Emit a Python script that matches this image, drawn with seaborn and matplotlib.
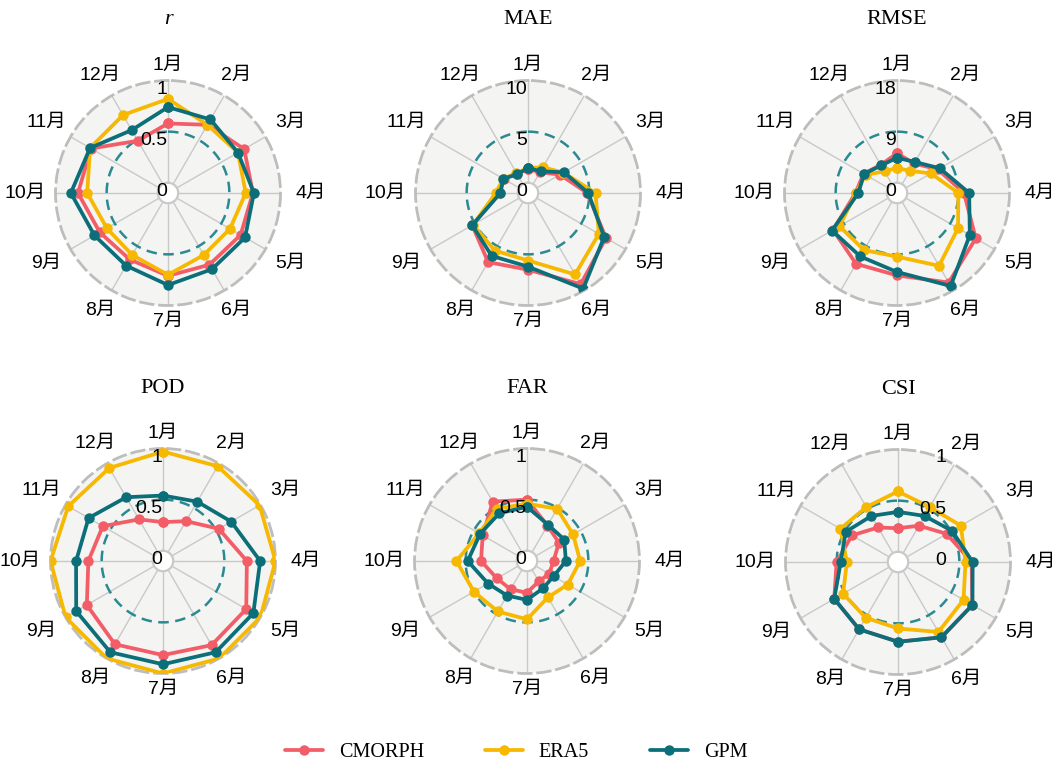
import numpy as np
import pandas as pd
import matplotlib.pyplot as plt
import matplotlib.transforms as mtransforms
from matplotlib.lines import Line2D
import seaborn as sns

# Data
months = [f"{i}月" for i in range(1, 13)]
products = ["CMORPH", "ERA5", "GPM"]
colors = ["#F35D68", "#F6B800", "#0B6E78"]

r_cmorph = [0.58, 0.67, 0.76, 0.73, 0.72, 0.71, 0.71, 0.65, 0.67, 0.78, 0.77, 0.49]
r_era5 = [0.82, 0.67, 0.69, 0.66, 0.60, 0.60, 0.70, 0.60, 0.59, 0.69, 0.78, 0.78]
r_gpm = [0.74, 0.73, 0.69, 0.74, 0.77, 0.76, 0.80, 0.72, 0.73, 0.85, 0.78, 0.61]

mae_cmorph = [1.35, 1.35, 2.6, 4.8, 7.8, 9.3, 6.5, 6.8, 5.3, 1.75, 1.75, 1.2]
mae_era5 = [1.45, 1.9, 3.0, 5.6, 7.0, 8.2, 5.6, 5.5, 5.2, 2.15, 1.8, 1.25]
mae_gpm = [1.45, 1.45, 3.05, 4.9, 7.6, 9.8, 6.2, 6.1, 5.3, 1.7, 1.8, 1.1]

rmse_cmorph = [5.2, 4.2, 6.5, 10.0, 14.2, 16.4, 12.7, 12.6, 11.2, 5.5, 5.0, 3.9]
rmse_era5 = [2.6, 2.7, 5.1, 9.0, 10.6, 13.0, 9.4, 9.8, 9.9, 5.4, 4.6, 2.6]
rmse_gpm = [4.4, 4.5, 6.9, 10.9, 13.0, 17.1, 12.1, 11.1, 11.4, 5.0, 4.9, 3.8]

pod_cmorph = [0.28, 0.35, 0.53, 0.72, 0.84, 0.85, 0.82, 0.84, 0.76, 0.63, 0.58, 0.37]
pod_era5 = [0.97, 0.97, 0.99, 1.0, 1.0, 1.0, 1.0, 1.0, 1.0, 1.0, 0.97, 0.95]
pod_gpm = [0.54, 0.57, 0.67, 0.85, 0.92, 0.93, 0.91, 0.93, 0.88, 0.75, 0.74, 0.62]

far_cmorph = [0.50, 0.30, 0.26, 0.16, 0.15, 0.13, 0.21, 0.22, 0.24, 0.35, 0.40, 0.57]
far_era5 = [0.46, 0.49, 0.42, 0.42, 0.36, 0.31, 0.47, 0.47, 0.50, 0.59, 0.44, 0.49]
far_gpm = [0.43, 0.31, 0.32, 0.28, 0.20, 0.21, 0.28, 0.29, 0.34, 0.48, 0.43, 0.44]

csi_cmorph = [0.23, 0.31, 0.45, 0.62, 0.74, 0.75, 0.68, 0.66, 0.62, 0.50, 0.42, 0.29]
csi_era5 = [0.59, 0.52, 0.61, 0.56, 0.64, 0.69, 0.55, 0.53, 0.52, 0.40, 0.55, 0.52]
csi_gpm = [0.39, 0.42, 0.51, 0.63, 0.74, 0.75, 0.68, 0.66, 0.62, 0.46, 0.49, 0.42]

titles = ["r", "MAE", "RMSE", "POD", "FAR", "CSI"]
r_limits = [1, 10, 18, 1, 1, 1]
r_ticklabels = [["0", "0.5", "1"], ["0", "5", "10"], ["0", "9", "18"],
                ["0", "0.5", "1"], ["0", "0.5", "1"], ["0", "0.5", "1"]]
panel_values = [
    (r_cmorph, r_era5, r_gpm),
    (mae_cmorph, mae_era5, mae_gpm),
    (rmse_cmorph, rmse_era5, rmse_gpm),
    (pod_cmorph, pod_era5, pod_gpm),
    (far_cmorph, far_era5, far_gpm),
    (csi_cmorph, csi_era5, csi_gpm),
]

sns.set_style("white")
plt.rcParams["font.family"] = ["Liberation Sans", "Noto Sans CJK SC"]
plt.rcParams["text.color"] = "black"

W, H = 1064, 764
fig = plt.figure(figsize=(W / 100, H / 100), dpi=100)

# panel centres in pixels (from the top-left corner)
centres = [(168, 193), (528, 193), (897, 193), (163, 561), (527, 561), (898, 562)]
R = 112.5
label_shift = [-0.5, -0.5, -0.5, -0.5, -0.5, 34.5]  # points

theta = np.deg2rad(np.arange(12) * 30)
teal_ring = "#2A8A91"
grey_ring = "#BDBDBD"
grid_col = "#C9C9C9"


def long_frame(series):
    parts = []
    for name, vals in zip(products, series):
        parts.append(pd.DataFrame({
            "theta": list(theta) + [2 * np.pi],
            "value": list(vals) + [vals[0]],
            "product": name,
        }))
    return pd.concat(parts, ignore_index=True)


for k, (title, rmax, tlabels, series) in enumerate(zip(titles, r_limits, r_ticklabels, panel_values)):
    cx, cy = centres[k]
    ax = fig.add_axes([(cx - R) / W, (H - cy - R) / H, 2 * R / W, 2 * R / H], projection="polar")
    ax.set_theta_zero_location("N")
    ax.set_theta_direction(-1)
    ax.set_facecolor("#F4F4F2")

    # mid ring
    ring = np.linspace(0, 2 * np.pi, 361)
    ax.plot(ring, np.full_like(ring, rmax / 2), color=teal_ring, lw=1.8,
            ls=(0, (4.2, 2.6)), zorder=2)

    df = long_frame(series)
    sns.lineplot(data=df, x="theta", y="value", hue="product", palette=colors,
                 hue_order=products, sort=False, estimator=None, marker="o",
                 markersize=7.5, markeredgewidth=0, linewidth=2.7, legend=False,
                 ax=ax, zorder=3)

    ax.set_ylim(0, rmax)
    ax.set_rorigin(-0.1 * rmax)
    ax.set_xlabel("")
    ax.set_ylabel("")
    ax.set_xticks(theta)
    ax.set_xticklabels([])
    ax.set_yticks([])
    ax.xaxis.grid(True, color=grid_col, lw=1)
    ax.tick_params(axis="x", length=0)

    ax.spines["polar"].set_color(grey_ring)
    ax.spines["polar"].set_linewidth(2)
    ax.spines["polar"].set_linestyle((0, (4.5, 2.4)))
    ax.spines["inner"].set_color(grid_col)
    ax.spines["inner"].set_linewidth(1.6)

    # radial labels
    trans = mtransforms.offset_copy(ax.transData, fig=fig, x=label_shift[k], y=0, units="points")
    for val, lab in zip([0, rmax / 2, rmax], tlabels):
        ax.text(0, val, lab, ha="right", va="top", fontsize=14, transform=trans,
                zorder=6, clip_on=False)

    # month labels
    for th, m in zip(theta, months):
        d = (128 + 15 * abs(np.sin(th))) / (2 * R)
        ax.text(0.5 + d * np.sin(th), 0.5 + d * np.cos(th), m, transform=ax.transAxes,
                ha="center", va="center", fontsize=14)

    ax.text(0.5, 0.5 + 173 / (2 * R), title, transform=ax.transAxes, ha="center",
            va="center", fontsize=16, family="Liberation Serif",
            style="italic" if title == "r" else "normal")

handles = [Line2D([], [], color=c, lw=2.7, marker="o", markersize=7.5, markeredgewidth=0)
           for c in colors]
fig.legend(handles, products, loc="center", bbox_to_anchor=(516 / W, 1 - 752 / H), ncol=3,
           frameon=False, prop={"family": "Liberation Serif", "size": 14.5},
           handlelength=1.9, handletextpad=0.8, columnspacing=3.0)

fig.savefig("out.png", dpi=100)
